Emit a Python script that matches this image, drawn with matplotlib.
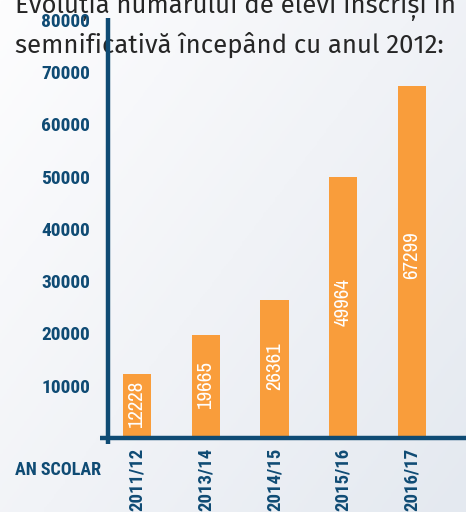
import matplotlib
matplotlib.use('Agg')
import matplotlib.pyplot as plt
from matplotlib.colors import LinearSegmentedColormap
import numpy as np

# colors
blue = '#0f4b74'
orange = '#f99d3b'
title_grey = '#262626'

# data
years = ['2011/12', '2013/14', '2014/15', '2015/16', '2016/17']
students = [12228, 19665, 26361, 49964, 67299]
yticks = [10000, 20000, 30000, 40000, 50000, 60000, 70000, 80000]
title_lines = ['Evoluția numărului de elevi înscriși în',
               'semnificativă începând cu anul 2012:']
xlabel = 'AN SCOLAR'

narrow = ['Archivo Narrow', 'Liberation Sans', 'DejaVu Sans']
narrow_bold = ['Roboto Condensed', 'PT Sans Narrow', 'DejaVu Sans']
head = ['Fira Sans', 'Open Sans', 'DejaVu Sans']

W, H = 466, 512
fig = plt.figure(figsize=(W / 100, H / 100), dpi=100)

# background gradient, light top-left to grey-blue bottom-right
bg = fig.add_axes([0, 0, 1, 1], zorder=-10)
gx, gy = np.meshgrid(np.linspace(0, 1, 200), np.linspace(0, 1, 200))
grad = (gx * 0.55 + gy * 0.45)
cmap = LinearSegmentedColormap.from_list('bg', ['#fdfdfe', '#f1f3f7', '#e4e9f0'])
bg.imshow(grad, cmap=cmap, aspect='auto', extent=[0, 1, 0, 1], origin='upper')
bg.axis('off')

# heading, partly hidden behind the chart
fig.text(15 / W, 1 - 13 / H, title_lines[0], fontsize=18.5, family=head,
         color=title_grey, ha='left', va='baseline', zorder=-5)
fig.text(15 / W, 1 - 53 / H, title_lines[1], fontsize=18.5, family=head,
         color=title_grey, ha='left', va='baseline', zorder=-5)

ax = fig.add_axes([108 / W, 1 - 438 / H, 358 / W, 418 / H], zorder=0)
ax.set_facecolor('none')

x = np.arange(len(years))
ax.bar(x, students, width=0.41, color=orange, zorder=2)
for xi, v in zip(x, students):
    ax.text(xi, v * 0.52, str(v), rotation=90, ha='center', va='center',
            color='white', fontsize=15, family=narrow, zorder=3)

ax.set_xlim(-0.42, 4.785)
ax.set_ylim(0, 80000)

for s in ax.spines.values():
    s.set_visible(False)
# axis lines sticking out a little past each other
ax.plot([-0.022, 1.0], [0, 0], transform=ax.transAxes, color=blue, lw=3.2,
        clip_on=False, solid_capstyle='butt', zorder=4)
ax.plot([0, 0], [-0.014, 1.005], transform=ax.transAxes, color=blue, lw=3.2,
        clip_on=False, solid_capstyle='butt', zorder=4)

ax.set_yticks(yticks)
ax.set_yticklabels([str(t) for t in yticks])
ax.set_xticks(x)
ax.set_xticklabels(years, rotation=90, va='top')
ax.tick_params(axis='both', length=0, colors=blue)
ax.tick_params(axis='y', pad=13)
ax.tick_params(axis='x', pad=7)
for lab in ax.get_yticklabels():
    lab.set_family(narrow_bold)
    lab.set_fontweight('bold')
    lab.set_fontsize(14)
    lab.set_color(blue)
for lab in ax.get_xticklabels():
    lab.set_family(narrow_bold)
    lab.set_fontweight('bold')
    lab.set_fontsize(13.5)
    lab.set_color(blue)

fig.text(15 / W, 1 - 470 / H, xlabel, fontsize=13, family=narrow_bold,
         fontweight='bold', color=blue, ha='left', va='center')

fig.savefig('out.png', dpi=100)
